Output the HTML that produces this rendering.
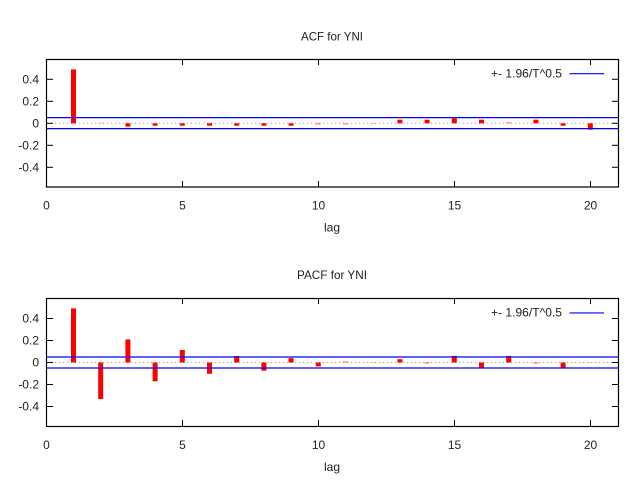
<!DOCTYPE html>
<html><head><meta charset="utf-8"><style>
html,body{margin:0;padding:0;background:#fff;}
svg{display:block;}
text{font-family:"Liberation Sans","DejaVu Sans",sans-serif;font-size:12px;fill:#222;}
</style></head><body>
<svg width="640" height="480" viewBox="0 0 640 480" xmlns="http://www.w3.org/2000/svg">
<rect width="640" height="480" fill="#fff"/>

<!-- ===== TOP: ACF ===== -->
<g>
<text x="332" y="40.3" text-anchor="middle" textLength="62" lengthAdjust="spacingAndGlyphs">ACF for YNI</text>
<!-- zero dotted -->
<line x1="47" y1="123.3" x2="618" y2="123.3" stroke="#a0a0a0" stroke-width="1" stroke-dasharray="1.2 2.8"/>
<!-- bars -->
<g fill="#ff0000">
<rect x="71.0" y="69.4" width="5" height="53.9"/>
<rect x="98.2" y="122.75" width="5" height="0.55" fill="#ff9090"/>
<rect x="125.4" y="123.3" width="5" height="3.3"/>
<rect x="152.6" y="123.3" width="5" height="2.4"/>
<rect x="179.8" y="123.3" width="5" height="2.4"/>
<rect x="207.0" y="123.3" width="5" height="2.4"/>
<rect x="234.2" y="123.3" width="5" height="2.4"/>
<rect x="261.4" y="123.3" width="5" height="2.4"/>
<rect x="288.6" y="123.3" width="5" height="2.4"/>
<rect x="315.8" y="123.3" width="5" height="1.1" fill="#ff7070"/>
<rect x="343.0" y="123.3" width="5" height="1.1" fill="#ff7070"/>
<rect x="370.2" y="123.3" width="5" height="0.6" fill="#ff9a9a"/>
<rect x="397.4" y="119.7" width="5" height="3.6"/>
<rect x="424.6" y="119.7" width="5" height="3.6"/>
<rect x="451.8" y="118.3" width="5" height="5.0"/>
<rect x="479.0" y="119.7" width="5" height="3.6"/>
<rect x="506.2" y="122.2" width="5" height="1.1" fill="#ff8080"/>
<rect x="533.4" y="119.7" width="5" height="3.6"/>
<rect x="560.6" y="123.3" width="5" height="2.4"/>
<rect x="587.8" y="123.3" width="5" height="6.4"/>
</g>
<!-- confidence lines -->
<line x1="47" y1="117.6" x2="618" y2="117.6" stroke="#0000ff" stroke-width="1.3"/>
<line x1="47" y1="128.6" x2="618" y2="128.6" stroke="#0000ff" stroke-width="1.3"/>
<!-- legend -->
<text x="562" y="77.4" text-anchor="end" textLength="71" lengthAdjust="spacingAndGlyphs">+- 1.96/T^0.5</text>
<line x1="569.5" y1="73.7" x2="604" y2="73.7" stroke="#0000ff" stroke-width="1.1"/>
<!-- frame -->
<rect x="46.5" y="59.5" width="572" height="127.5" fill="none" stroke="#000" stroke-width="1.2"/>
<!-- ticks -->
<g stroke="#000" stroke-width="1">
<line x1="47" y1="79.3" x2="53" y2="79.3"/><line x1="612" y1="79.3" x2="618" y2="79.3"/>
<line x1="47" y1="101.3" x2="53" y2="101.3"/><line x1="612" y1="101.3" x2="618" y2="101.3"/>
<line x1="47" y1="123.3" x2="53" y2="123.3"/><line x1="612" y1="123.3" x2="618" y2="123.3"/>
<line x1="47" y1="145.3" x2="53" y2="145.3"/><line x1="612" y1="145.3" x2="618" y2="145.3"/>
<line x1="47" y1="167.3" x2="53" y2="167.3"/><line x1="612" y1="167.3" x2="618" y2="167.3"/>
<line x1="182.5" y1="60" x2="182.5" y2="65"/><line x1="182.5" y1="181" x2="182.5" y2="187"/>
<line x1="318.5" y1="60" x2="318.5" y2="65"/><line x1="318.5" y1="181" x2="318.5" y2="187"/>
<line x1="454.5" y1="60" x2="454.5" y2="65"/><line x1="454.5" y1="181" x2="454.5" y2="187"/>
<line x1="590.5" y1="60" x2="590.5" y2="65"/><line x1="590.5" y1="181" x2="590.5" y2="187"/>
</g>
<!-- y tick labels -->
<g text-anchor="end">
<text x="39" y="83.5">0.4</text>
<text x="39" y="105.5">0.2</text>
<text x="39" y="127.5">0</text>
<text x="39" y="149.5">-0.2</text>
<text x="39" y="171.5">-0.4</text>
</g>
<!-- x tick labels -->
<g text-anchor="middle">
<text x="46.5" y="209.3">0</text>
<text x="182.5" y="209.3">5</text>
<text x="318.5" y="209.3">10</text>
<text x="454.5" y="209.3">15</text>
<text x="590.5" y="209.3">20</text>
</g>
<text x="332" y="231.7" text-anchor="middle">lag</text>
</g>

<!-- ===== BOTTOM: PACF ===== -->
<g>
<text x="332" y="279" text-anchor="middle" textLength="70" lengthAdjust="spacingAndGlyphs">PACF for YNI</text>
<line x1="47" y1="362.5" x2="618" y2="362.5" stroke="#a0a0a0" stroke-width="1" stroke-dasharray="1.2 2.8"/>
<g fill="#ff0000">
<rect x="71.0" y="308.4" width="5" height="54.1"/>
<rect x="98.2" y="362.5" width="5" height="36.5"/>
<rect x="125.4" y="339.4" width="5" height="23.1"/>
<rect x="152.6" y="362.5" width="5" height="18.8"/>
<rect x="179.8" y="350.0" width="5" height="12.5"/>
<rect x="207.0" y="362.5" width="5" height="11.3"/>
<rect x="234.2" y="356.0" width="5" height="6.5"/>
<rect x="261.4" y="362.5" width="5" height="8.2"/>
<rect x="288.6" y="358.1" width="5" height="4.4"/>
<rect x="315.8" y="362.5" width="5" height="3.9"/>
<rect x="343.0" y="361.4" width="5" height="1.1" fill="#ff7070"/>
<rect x="370.2" y="362.0" width="5" height="0.5" fill="#ff9a9a"/>
<rect x="397.4" y="359.2" width="5" height="3.3"/>
<rect x="424.6" y="362.5" width="5" height="1.1" fill="#ff7070"/>
<rect x="451.8" y="355.9" width="5" height="6.6"/>
<rect x="479.0" y="362.5" width="5" height="5.5"/>
<rect x="506.2" y="355.9" width="5" height="6.6"/>
<rect x="533.4" y="362.5" width="5" height="1.1" fill="#ff7070"/>
<rect x="560.6" y="362.5" width="5" height="5.5"/>
<rect x="587.8" y="362.0" width="5" height="0.5" fill="#ff9a9a"/>
</g>
<line x1="47" y1="357.0" x2="618" y2="357.0" stroke="#0000ff" stroke-width="1.3"/>
<line x1="47" y1="368.0" x2="618" y2="368.0" stroke="#0000ff" stroke-width="1.3"/>
<text x="562" y="316.6" text-anchor="end" textLength="71" lengthAdjust="spacingAndGlyphs">+- 1.96/T^0.5</text>
<line x1="569.5" y1="312.9" x2="604" y2="312.9" stroke="#0000ff" stroke-width="1.1"/>
<rect x="46.5" y="298.5" width="572" height="128" fill="none" stroke="#000" stroke-width="1.2"/>
<g stroke="#000" stroke-width="1">
<line x1="47" y1="318.5" x2="53" y2="318.5"/><line x1="612" y1="318.5" x2="618" y2="318.5"/>
<line x1="47" y1="340.5" x2="53" y2="340.5"/><line x1="612" y1="340.5" x2="618" y2="340.5"/>
<line x1="47" y1="362.5" x2="53" y2="362.5"/><line x1="612" y1="362.5" x2="618" y2="362.5"/>
<line x1="47" y1="384.5" x2="53" y2="384.5"/><line x1="612" y1="384.5" x2="618" y2="384.5"/>
<line x1="47" y1="406.5" x2="53" y2="406.5"/><line x1="612" y1="406.5" x2="618" y2="406.5"/>
<line x1="182.5" y1="299" x2="182.5" y2="304"/><line x1="182.5" y1="420" x2="182.5" y2="426"/>
<line x1="318.5" y1="299" x2="318.5" y2="304"/><line x1="318.5" y1="420" x2="318.5" y2="426"/>
<line x1="454.5" y1="299" x2="454.5" y2="304"/><line x1="454.5" y1="420" x2="454.5" y2="426"/>
<line x1="590.5" y1="299" x2="590.5" y2="304"/><line x1="590.5" y1="420" x2="590.5" y2="426"/>
</g>
<g text-anchor="end">
<text x="39" y="322.7">0.4</text>
<text x="39" y="344.7">0.2</text>
<text x="39" y="366.7">0</text>
<text x="39" y="388.7">-0.2</text>
<text x="39" y="410.7">-0.4</text>
</g>
<g text-anchor="middle">
<text x="46.5" y="448.8">0</text>
<text x="182.5" y="448.8">5</text>
<text x="318.5" y="448.8">10</text>
<text x="454.5" y="448.8">15</text>
<text x="590.5" y="448.8">20</text>
</g>
<text x="332" y="471.2" text-anchor="middle">lag</text>
</g>
</svg>
</body></html>
